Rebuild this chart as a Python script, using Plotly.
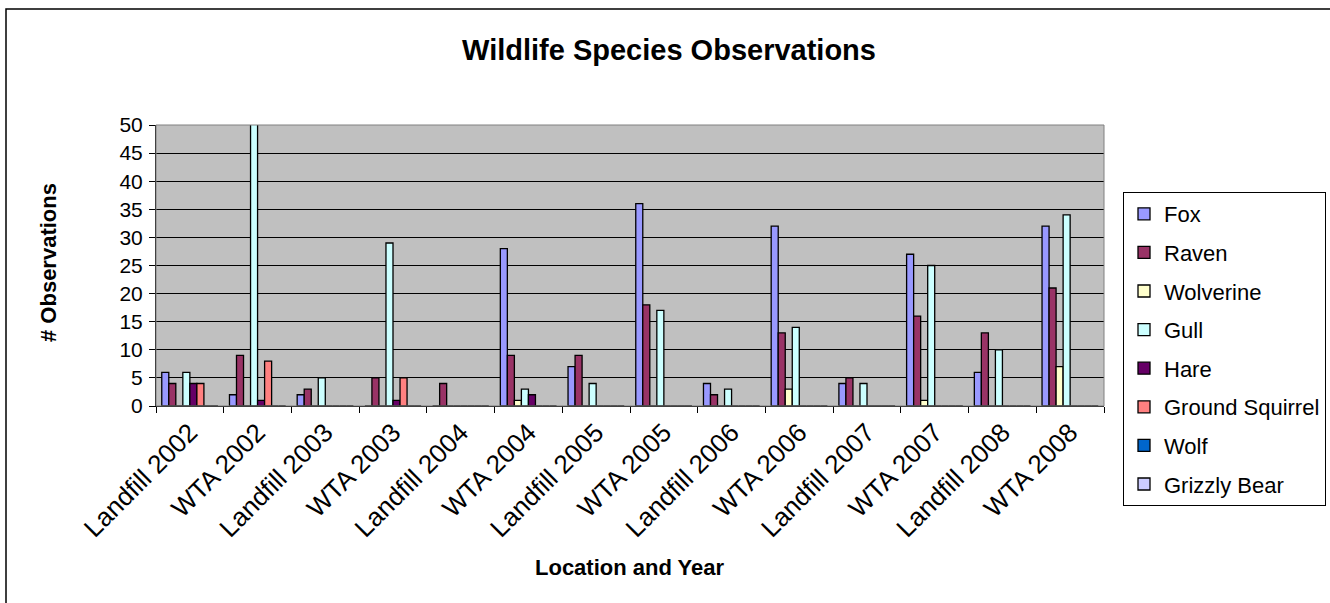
import plotly.graph_objects as go

categories = ["Landfill 2002", "WTA 2002", "Landfill 2003", "WTA 2003", "Landfill 2004",
              "WTA 2004", "Landfill 2005", "WTA 2005", "Landfill 2006", "WTA 2006",
              "Landfill 2007", "WTA 2007", "Landfill 2008", "WTA 2008"]

fox             = [6, 2, 2, 0, 0, 28, 7, 36, 4, 32, 4, 27, 6, 32]
raven           = [4, 9, 3, 5, 4, 9, 9, 18, 2, 13, 5, 16, 13, 21]
wolverine       = [0, 0, 0, 0, 0, 1, 0, 0, 0, 3, 0, 1, 0, 7]
gull            = [6, 60, 5, 29, 0, 3, 4, 17, 3, 14, 4, 25, 10, 34]
hare            = [4, 1, 0, 1, 0, 2, 0, 0, 0, 0, 0, 0, 0, 0]
ground_squirrel = [4, 8, 0, 5, 0, 0, 0, 0, 0, 0, 0, 0, 0, 0]
wolf            = [0, 0, 0, 0, 0, 0, 0, 0, 0, 0, 0, 0, 0, 0]
grizzly_bear    = [0, 0, 0, 0, 0, 0, 0, 0, 0, 0, 0, 0, 0, 0]

series_names = ["Fox", "Raven", "Wolverine", "Gull", "Hare", "Ground Squirrel", "Wolf", "Grizzly Bear"]
series_values = [fox, raven, wolverine, gull, hare, ground_squirrel, wolf, grizzly_bear]
series_colors = ["#9999FF", "#993366", "#FFFFCC", "#CCFFFF", "#660066", "#FF8080", "#0066CC", "#CCCCFF"]

y_tick_vals = [0, 5, 10, 15, 20, 25, 30, 35, 40, 45, 50]

W, H = 1330, 603
L, R, T, B = 156, 1104, 125, 406   # plot area in page pixels
FONT = "Liberation Sans, Arial, sans-serif"

fig = go.Figure()
for name, vals, col in zip(series_names, series_values, series_colors):
    fig.add_trace(go.Bar(
        x=categories, y=vals, name=name, legendgroup=name,
        marker=dict(color=col, line=dict(color="black", width=1.3)),
    ))

pw, ph = R - L, B - T
def px_x(x):
    return (x - L) / pw
def px_y(y):
    return (B - y) / ph

fig.update_layout(
    width=W, height=H,
    margin=dict(l=L, r=W - R, t=T, b=H - B, pad=0, autoexpand=False),
    paper_bgcolor="white",
    plot_bgcolor="#C0C0C0",
    barmode="group",
    bargap=0.17,
    bargroupgap=0,
    font=dict(family=FONT, color="black", size=20),
    title=dict(text="<b>Wildlife Species Observations</b>", x=px_x(669), xanchor="center",
               y=1 - 50 / H, yanchor="middle", xref="paper",
               font=dict(family=FONT, size=29, color="black")),
    xaxis=dict(
        type="category", tickangle=-45, tickson="boundaries", ticks="outside",
        ticklen=6, tickcolor="black", showline=True, linecolor="black", linewidth=1,
        showgrid=False, tickfont=dict(family=FONT, size=26, color="black"),
    ),
    yaxis=dict(
        range=[0, 50], tickvals=y_tick_vals, ticks="outside", ticklen=6, tickcolor="black",
        showline=True, linecolor="black", linewidth=1,
        showgrid=True, gridcolor="black", gridwidth=1, zeroline=False,
        tickfont=dict(family=FONT, size=21, color="black"), ticklabelstandoff=2,
    ),
    legend=dict(
        x=px_x(1123), y=px_y(192), xanchor="left", yanchor="top",
        bgcolor="white", bordercolor="black", borderwidth=1,
        font=dict(family=FONT, size=22, color="black"),
        traceorder="grouped", tracegroupgap=7, maxheight=600,
    ),
    showlegend=True,
)

# plot-area border
fig.add_shape(type="rect", xref="paper", yref="paper", x0=0, x1=1, y0=0, y1=1,
              line=dict(color="#808080", width=1), layer="above")
# chart frame
fig.add_shape(type="rect", xref="paper", yref="paper",
              x0=px_x(6), x1=px_x(1345), y0=px_y(620), y1=px_y(9),
              line=dict(color="black", width=1.5), layer="above")

fig.add_annotation(text="<b>Location and Year</b>", xref="paper", yref="paper",
                   x=px_x(630), y=px_y(567), xanchor="center", yanchor="middle",
                   showarrow=False, font=dict(family=FONT, size=22, color="black"))
fig.add_annotation(text="<b># Observations</b>", xref="paper", yref="paper",
                   x=px_x(48), y=px_y(263), xanchor="center", yanchor="middle",
                   textangle=-90, showarrow=False, font=dict(family=FONT, size=22, color="black"))

fig.write_html("out.html", config={"displayModeBar": False},
               post_script="document.body.style.margin='0px';")
